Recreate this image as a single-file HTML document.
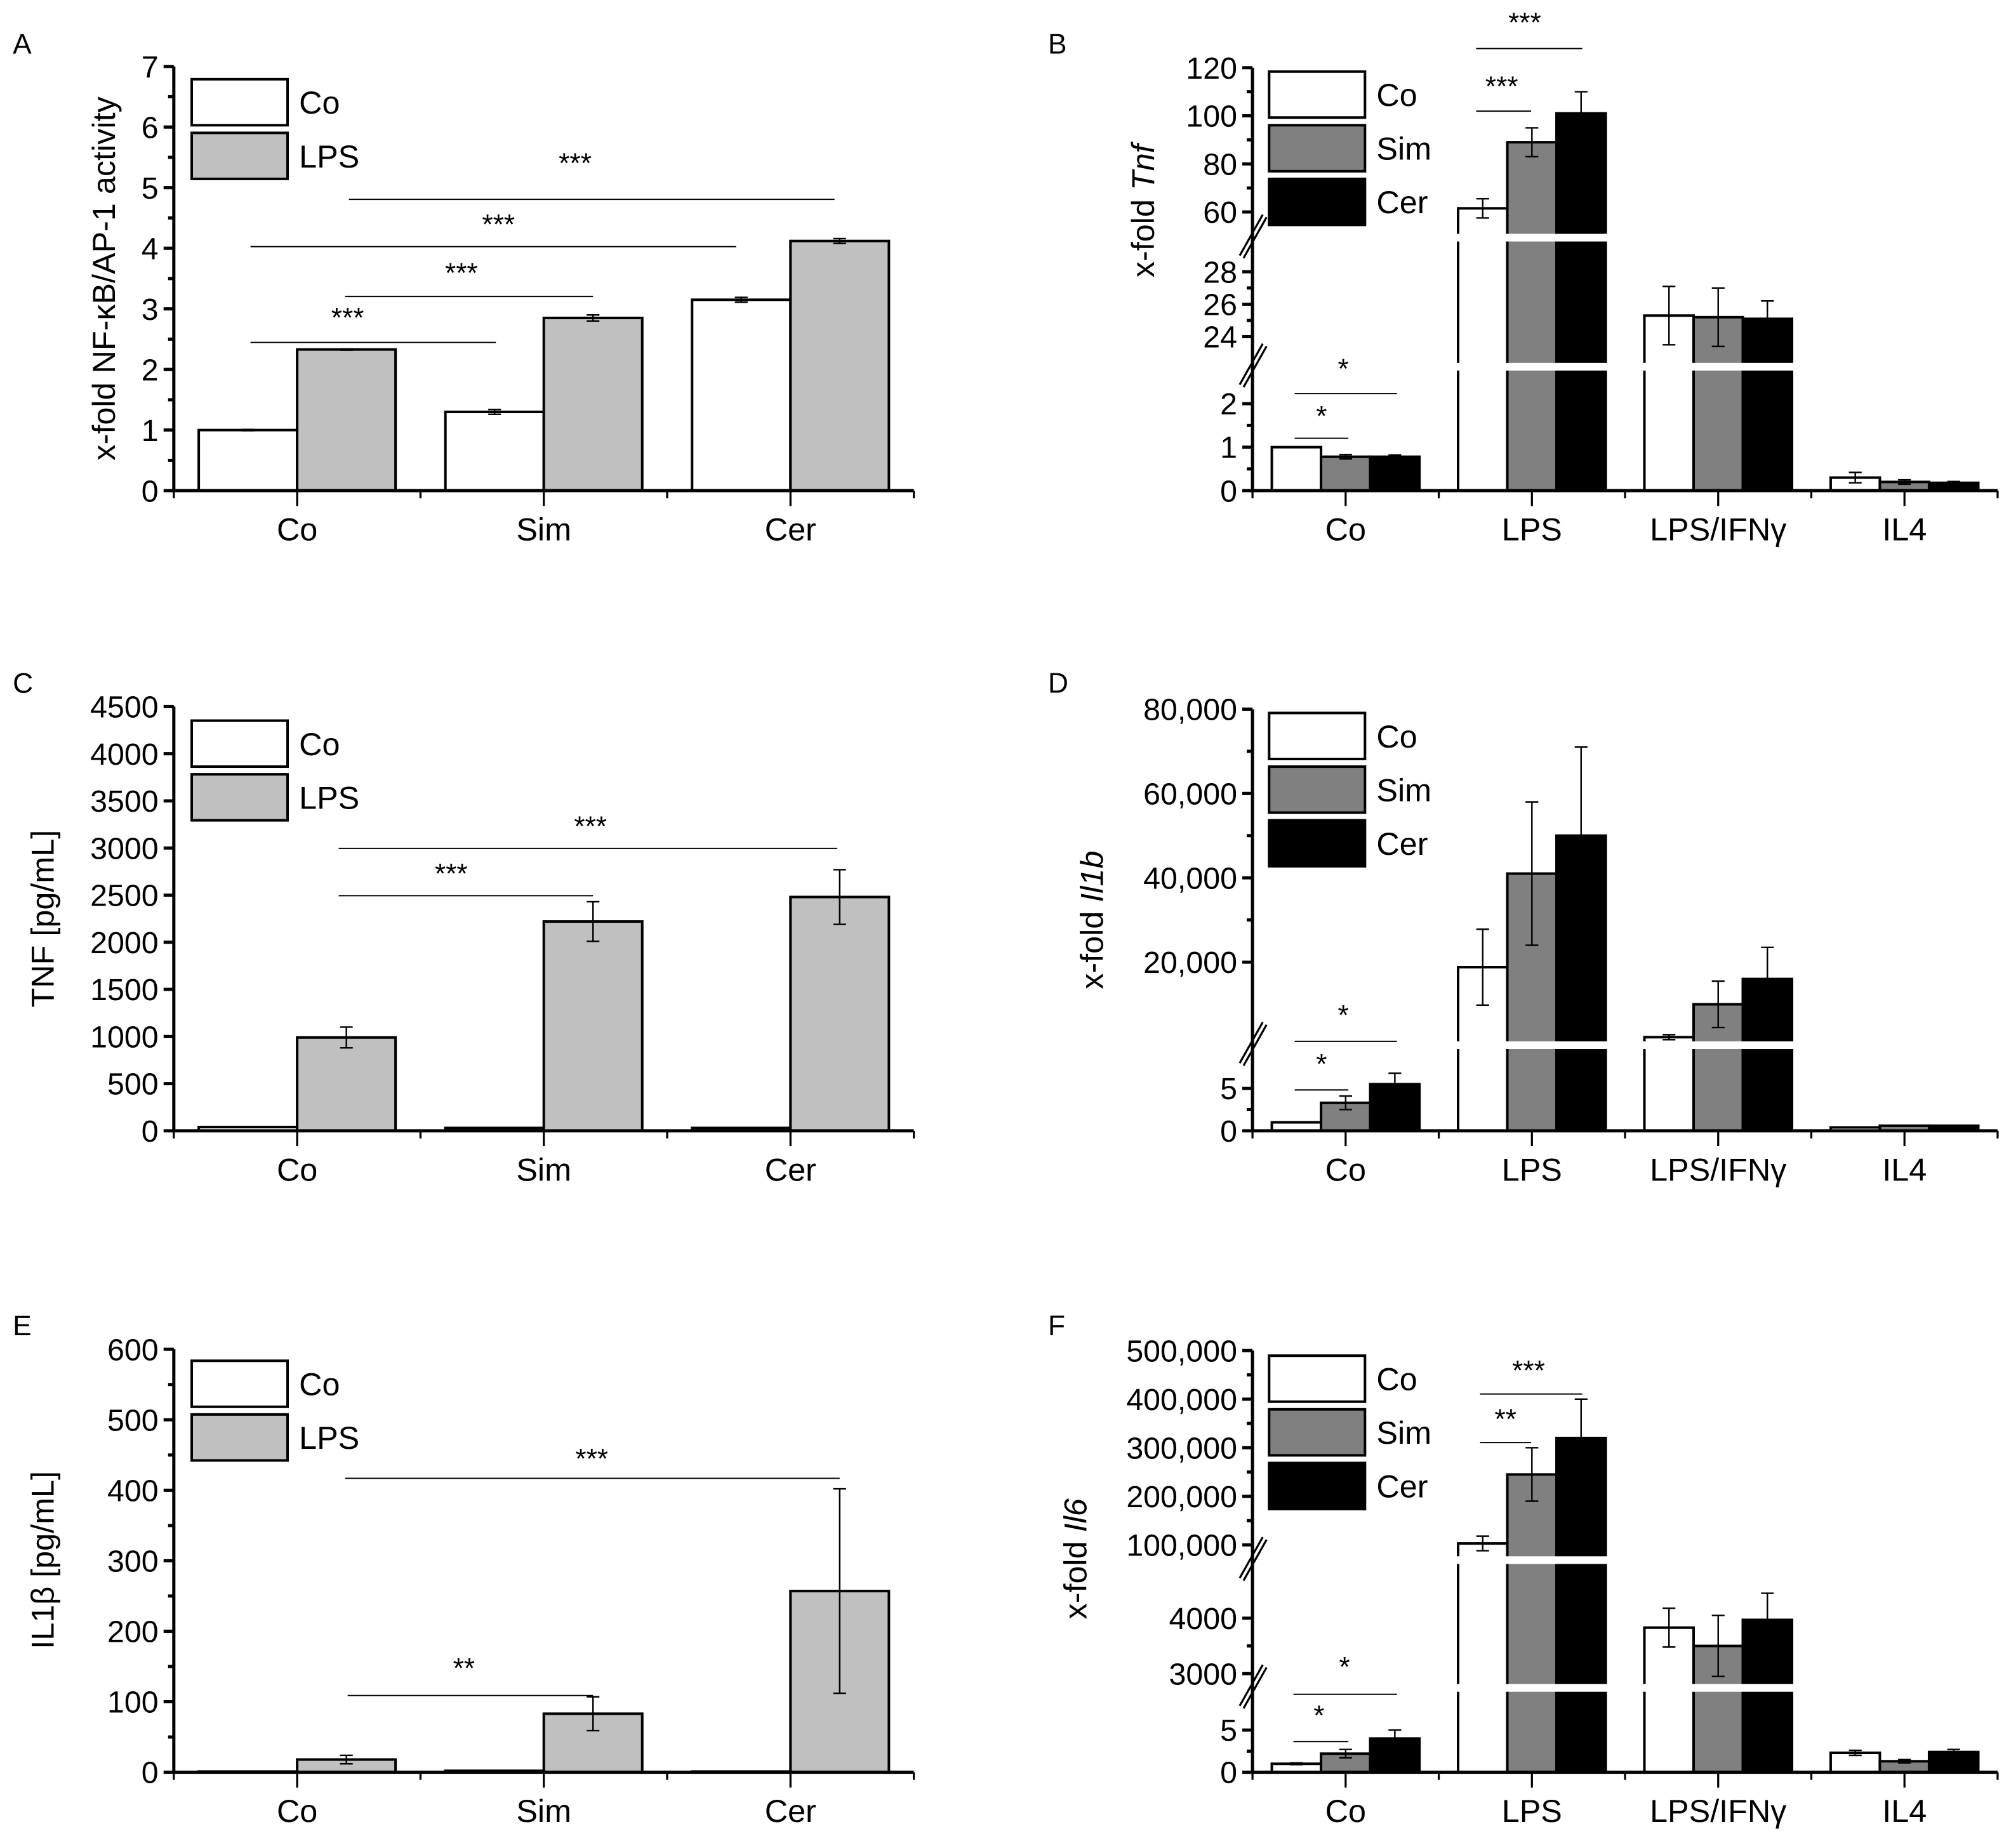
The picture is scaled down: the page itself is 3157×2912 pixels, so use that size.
<!DOCTYPE html>
<html><head><meta charset="utf-8"><style>
html,body{margin:0;padding:0;background:#fff}
svg{display:block}
text{font-family:"Liberation Sans",sans-serif;fill:#000}
</style></head><body>
<svg id="fig" xmlns="http://www.w3.org/2000/svg" width="3157" height="2912" viewBox="0 0 1568 1446.3">
<rect width="1568" height="1446.3" fill="#fff"/>
</svg>
<script>
// ---------- Panel A data ----------
const catsLeft = ["Co","Sim","Cer"];
const aCo = [1.0, 1.3, 3.15];
const aLps = [2.33, 2.85, 4.12];
const aCoErr = [0.01, 0.04, 0.04];
const aLpsErr = [0.01, 0.05, 0.04];
const aTicks = [0,1,2,3,4,5,6,7];
// ---------- Panel C data ----------
const cCo = [40, 30, 30];
const cLps = [990, 2220, 2480];
const cCoErr = [0, 0, 0];
const cLpsErr = [110, 210, 290];
const cTicks = [0,500,1000,1500,2000,2500,3000,3500,4000,4500];
// ---------- Panel E data ----------
const eCo = [1, 2, 1];
const eLps = [18, 83, 257];
const eCoErr = [0, 0, 0];
const eLpsErr = [6, 24, 145];
const eTicks = [0,100,200,300,400,500,600];
// ---------- Right panels ----------
const catsRight = ["Co","LPS","LPS/IFN\u03b3","IL4"];
const bCo = [1.0, 61.5, 25.3, 0.3];
const bSim = [0.78, 89, 25.2, 0.2];
const bCer = [0.78, 101, 25.1, 0.18];
const bCoErr = [0, 4, 1.8, 0.12];
const bSimErr = [0.05, 6, 1.8, 0.05];
const bCerErr = [0.04, 9, 1.1, 0.03];
const bTicks = [0,1,2,24,26,28,60,80,100,120];
const dCo = [1, 18800, 2200, 0.4];
const dSim = [3.3, 41000, 10000, 0.6];
const dCer = [5.5, 50000, 16000, 0.6];
const dCoErr = [0, 9000, 600, 0];
const dSimErr = [0.8, 17000, 5500, 0];
const dCerErr = [1.3, 21000, 7500, 0];
const dTicks = [0,5,20000,40000,60000,80000];
const fCo = [1, 103000, 3830, 2.3];
const fSim = [2.2, 245000, 3500, 1.3];
const fCer = [4.0, 320000, 3970, 2.4];
const fCoErr = [0.1, 15000, 350, 0.3];
const fSimErr = [0.5, 55000, 550, 0.2];
const fCerErr = [1.0, 80000, 480, 0.3];
const fTicks = [0,5,3000,4000,100000,200000,300000,400000,500000];

const NS = "http://www.w3.org/2000/svg";
const svg = document.getElementById('fig');
function el(tag, attrs, parent){
  const e = document.createElementNS(NS, tag);
  for (const k in attrs) e.setAttribute(k, attrs[k]);
  (parent||svg).appendChild(e);
  return e;
}
function txt(s, x, y, size, anchor, parent, extra){
  const t = el('text', Object.assign({x:x, y:y, 'font-size':size, 'text-anchor':anchor||'middle'}, extra||{}), parent);
  t.textContent = s;
  return t;
}
function fmt(v){ return v>=10000 ? v.toLocaleString('en-US') : String(v); }

function makeScale(segs){
  return function(v){
    for (const s of segs){ if (v <= s[1]) return s[2] + (v - s[0]) * (s[3]-s[2])/(s[1]-s[0]); }
    const s = segs[segs.length-1]; return s[2] + (v - s[0])*(s[3]-s[2])/(s[1]-s[0]);
  };
}
function segOf(segs, v){ for (let i=0;i<segs.length;i++) if (v<=segs[i][1]) return i; return segs.length-1; }

function panel(cfg){
  const g = el('g', {});
  
  
  const y = makeScale(cfg.segs);
  const base = cfg.segs[0][2];
  const x0 = cfg.x0, x1 = cfg.x1;
  const n = cfg.cats.length;
  const catW = (x1 - x0)/n;
  const ns = cfg.series.length;
  const bw = cfg.bw;
  cfg.cats.forEach((c, i) => {
    const cx = x0 + catW*(i+0.5);
    cfg.series.forEach((s, j) => {
      const bx = cx - bw*ns/2 + bw*j;
      const v = s.vals[i];
      const top = y(v);
      const r = el('rect', {x:bx, y:top, width:bw, height:base-top, fill:s.fill, stroke:'#000', 'stroke-width':2}, g);
      
      
      const e = s.errs[i];
      if (e > 0){
        const yt = y(v+e), yb = y(Math.max(0,v-e));
        const eb = el('path', {d:`M${bx+bw/2},${yt}V${yb}M${bx+bw/2-5},${yt}h10M${bx+bw/2-5},${yb}h10`, stroke:'#000', 'stroke-width':1.2, fill:'none'}, g);
        
        
      }
    });
  });
  for (let k=0; k<cfg.segs.length-1; k++){
    const gy = cfg.segs[k][3];
    const gap = el('rect', {x:x0+3, y:gy-3, width:x1-x0-3, height:6, fill:'#fff'}, g);
    
    
  }
  const topY = cfg.segs[cfg.segs.length-1][3];
  const ax = el('path', {d:`M${x0},${topY}V${base}H${x1}`, stroke:'#000', 'stroke-width':2.5, fill:'none'}, g);
  
  
  cfg.ticks.forEach((t, i) => {
    const ty = y(t);
    const tk = el('line', {x1:x0-8, x2:x0, y1:ty, y2:ty, stroke:'#000', 'stroke-width':2.5}, g);
    
    
    const lb = txt(fmt(t), x0-12, ty+8.5, 24, 'end', g);
    
    
    const nx = cfg.ticks[i+1];
    if (nx !== undefined && segOf(cfg.segs,t) === segOf(cfg.segs,nx) && cfg.minor){
      const my = y((t+nx)/2);
      const mt = el('line', {x1:x0-4.5, x2:x0, y1:my, y2:my, stroke:'#000', 'stroke-width':2.5}, g);
      
      
    }
  });
  for (let k=0; k<cfg.segs.length-1; k++){
    const gy = cfg.segs[k][3];
    const bm = el('path', {d:`M${x0-10},${gy+14}L${x0+8},${gy-18}M${x0-7},${gy+16}L${x0+11},${gy-16}`, stroke:'#000', 'stroke-width':1.6, fill:'none'}, g);
    
    
  }
  for (let i=0;i<=n;i++){
    const tx = x0 + catW*i;
    const mt = el('line', {x1:tx, x2:tx, y1:base, y2:base+6, stroke:'#000', 'stroke-width':1.6}, g);
    
    
  }
  cfg.cats.forEach((c, i) => {
    const cx = x0 + catW*(i+0.5);
    const tk = el('line', {x1:cx, x2:cx, y1:base, y2:base+12, stroke:'#000', 'stroke-width':1.6}, g);
    
    
    const lb = txt(c, cx, base+39, 25, 'middle', g);
    
    
  });
  cfg.series.forEach((s, j) => {
    const ly = cfg.legY + j*42;
    const lr = el('rect', {x:cfg.legX, y:ly, width:75, height:36, fill:s.fill, stroke:'#000', 'stroke-width':2}, g);
    
    
    const lt = txt(s.label, cfg.legX+84, ly+27, 25, 'start', g);
    
    
  });
  cfg.sig.forEach(sg => {
    const sl = el('line', {x1:sg[0], x2:sg[1], y1:sg[2], y2:sg[2], stroke:'#000', 'stroke-width':1}, g);
    
    
    const st = txt(sg[4], sg[3], sg[5], 22, 'middle', g);
    
    
  });
  const yl = el('text', {x:0, y:0, 'font-size':25, 'text-anchor':'middle', transform:`translate(${cfg.ylX},${cfg.ylY}) rotate(-90)`}, g);
  
  
  cfg.ylabel.forEach(p => { const ts = el('tspan', p[1]?{'font-style':'italic'}:{}, yl); ts.textContent = p[0]; });
  const pl = txt(cfg.letter, cfg.letX, cfg.letY, 22, 'start', g);
  
  
}

const twoSeries = (co, lps, coE, lpsE) => [
  {key:'co', label:'Co', fill:'#fff', vals:co, errs:coE},
  {key:'lps', label:'LPS', fill:'#c0c0c0', vals:lps, errs:lpsE}];
const threeSeries = (co, sim, cer, coE, simE, cerE) => [
  {key:'co', label:'Co', fill:'#fff', vals:co, errs:coE},
  {key:'sim', label:'Sim', fill:'#808080', vals:sim, errs:simE},
  {key:'cer', label:'Cer', fill:'#000', vals:cer, errs:cerE}];

panel({name:'panel-a', letter:'A', letX:10, letY:42, x0:136, x1:715, bw:77, cats:catsLeft,
  segs:[[0,7,384,52]], ticks:aTicks, minor:true, series:twoSeries(aCo,aLps,aCoErr,aLpsErr),
  legX:150, legY:62, ylX:90, ylY:218, ylabel:[['x-fold NF-\u03baB/AP-1 activity',false]],
  sig:[[196,388,268,272,'***',256],[270,464,232,361,'***',221],[196,576,193,390,'***',183],[273,653,156,450,'***',135]]});
panel({name:'panel-c', letter:'C', letX:10, letY:542, x0:136, x1:715, bw:77, cats:catsLeft,
  segs:[[0,4500,885,553]], ticks:cTicks, minor:false, series:twoSeries(cCo,cLps,cCoErr,cLpsErr),
  legX:150, legY:564, ylX:42, ylY:719, ylabel:[['TNF [pg/mL]',false]],
  sig:[[265,464,701,353,'***',691],[265,655,664,462,'***',654]]});
panel({name:'panel-e', letter:'E', letX:10, letY:1045, x0:136, x1:715, bw:77, cats:catsLeft,
  segs:[[0,600,1387,1056]], ticks:eTicks, minor:true, series:twoSeries(eCo,eLps,eCoErr,eLpsErr),
  legX:150, legY:1065, ylX:42, ylY:1221, ylabel:[['IL1\u03b2 [pg/mL]',false]],
  sig:[[272,464,1327,363,'**',1313],[270,657,1157,463,'***',1149]]});

panel({name:'panel-b', letter:'B', letX:820, letY:42, x0:980, x1:1563, bw:38.5, cats:catsRight,
  segs:[[0,2.85,384,287],[22.15,30.1,287,186],[49.3,120,186,53]], ticks:bTicks, minor:true,
  series:threeSeries(bCo,bSim,bCer,bCoErr,bSimErr,bCerErr),
  legX:993, legY:56, ylX:903, ylY:165, ylabel:[['x-fold ',false],['Tnf',true]],
  sig:[[1013,1055,343,1034,'*',333],[1013,1093,308,1051,'*',296],[1155,1198,87,1175,'***',75],[1155,1238,38,1193,'***',25]]});
panel({name:'panel-d', letter:'D', letX:820, letY:542, x0:980, x1:1563, bw:38.5, cats:catsRight,
  segs:[[0,10.1,885,818],[300,80000,818,555]], ticks:dTicks, minor:true,
  series:threeSeries(dCo,dSim,dCer,dCoErr,dSimErr,dCerErr),
  legX:993, legY:558, ylX:863, ylY:720, ylabel:[['x-fold ',false],['Il1b',true]],
  sig:[[1013,1055,853,1034,'*',840],[1013,1093,815,1051,'*',802]]});
panel({name:'panel-f', letter:'F', letX:820, letY:1045, x0:980, x1:1563, bw:38.5, cats:catsRight,
  segs:[[0,10,1387,1321],[2744,5047,1321,1221],[68700,500000,1221,1057]], ticks:fTicks, minor:true,
  series:threeSeries(fCo,fSim,fCer,fCoErr,fSimErr,fCerErr),
  legX:993, legY:1061, ylX:850, ylY:1220, ylabel:[['x-fold ',false],['Il6',true]],
  sig:[[1012,1055,1363,1032,'*',1350],[1012,1093,1326,1052,'*',1312],[1158,1198,1129,1178,'**',1118],[1158,1238,1091,1196,'***',1080]]});
</script>
</body></html>
